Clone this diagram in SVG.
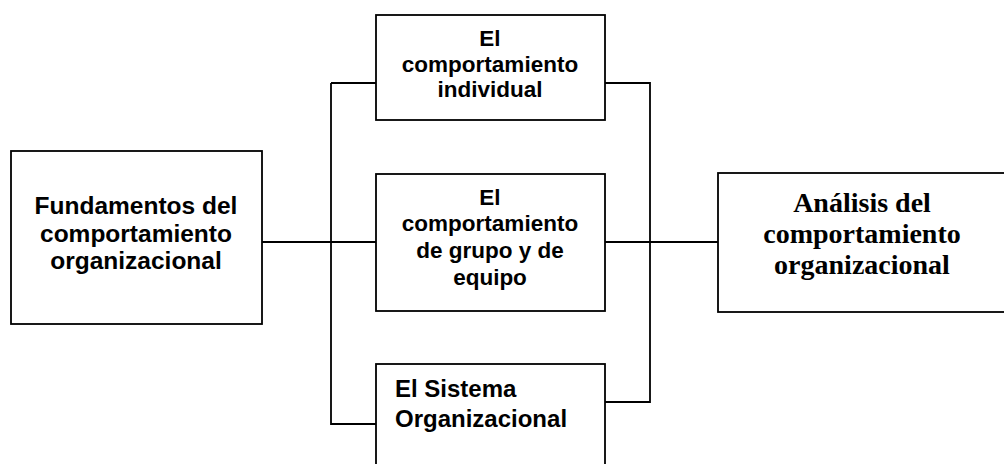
<svg xmlns="http://www.w3.org/2000/svg" width="1004" height="464" viewBox="0 0 1004 464">
<style>
.box{fill:#fff;stroke:#000;stroke-width:1.8}
.conn{fill:none;stroke:#000;stroke-width:1.8}
.t{font-family:"Liberation Sans",Arial,sans-serif;font-weight:bold;fill:#000}
.s{font-family:"Liberation Serif","Times New Roman",serif;font-weight:bold;fill:#000}
</style>
<rect width="1004" height="464" fill="#fff"/>
<g id="connectors">
<path class="conn" d="M262 242H331M331 83V424H376M331 83H376M331 242H376"/>
<path class="conn" d="M605 83H650V402H605M605 242H718"/>
</g>
<g id="fundamentos">
<rect class="box" x="11" y="151" width="251" height="173"/>
<text class="t" font-size="24.5" text-anchor="middle"><tspan x="136" y="214">Fundamentos del</tspan><tspan x="136" y="241.5">comportamiento</tspan><tspan x="136" y="269">organizacional</tspan></text>
</g>
<g id="individual">
<rect class="box" x="376" y="15" width="229" height="105"/>
<text class="t" font-size="22.5" text-anchor="middle"><tspan x="490" y="46">El</tspan><tspan x="490" y="72">comportamiento</tspan><tspan x="490" y="97">individual</tspan></text>
</g>
<g id="grupo">
<rect class="box" x="376" y="174" width="229" height="137"/>
<text class="t" font-size="22.5" text-anchor="middle"><tspan x="490" y="205">El</tspan><tspan x="490" y="231">comportamiento</tspan><tspan x="490" y="258">de grupo y de</tspan><tspan x="490" y="285">equipo</tspan></text>
</g>
<g id="sistema">
<rect class="box" x="376" y="364" width="229" height="120"/>
<text class="t" font-size="24"><tspan x="395" y="397">El Sistema</tspan><tspan x="395" y="427">Organizacional</tspan></text>
</g>
<g id="analisis">
<rect class="box" x="718" y="173" width="300" height="139"/>
<text class="s" font-size="28" text-anchor="middle"><tspan x="862" y="212">Análisis del</tspan><tspan x="862" y="243">comportamiento</tspan><tspan x="862" y="274">organizacional</tspan></text>
</g>
</svg>
